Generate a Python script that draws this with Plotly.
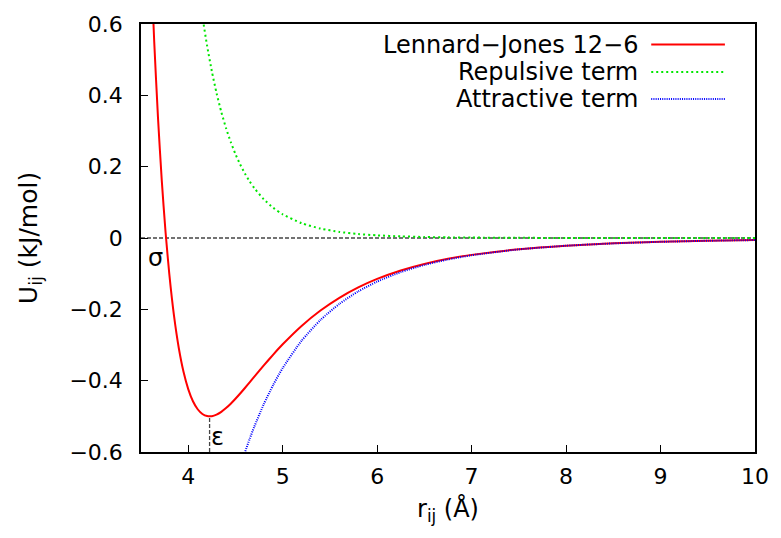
import plotly.graph_objects as go

# ---- data ----
r = [3.60, 3.64, 3.68, 3.72, 3.76, 3.80, 3.85, 3.90, 3.95, 4.00, 4.05, 4.10,
     4.15, 4.20, 4.25, 4.30, 4.35, 4.40, 4.45, 4.50, 4.55, 4.60, 4.65, 4.70,
     4.80, 4.90, 5.00, 5.20, 5.40, 5.60, 5.80, 6.00, 6.25, 6.50, 6.75, 7.00,
     7.50, 8.00, 8.50, 9.00, 9.50, 10.00]
u_lj = [0.8074, 0.5500, 0.3368, 0.1608, 0.0162, -0.1022, -0.2193, -0.3084,
        -0.3751, -0.4236, -0.4577, -0.4801, -0.4934, -0.4993, -0.4995, -0.4951,
        -0.4873, -0.4769, -0.4645, -0.4507, -0.4359, -0.4205, -0.4047, -0.3888,
        -0.3573, -0.3269, -0.2981, -0.2466, -0.2034, -0.1677, -0.1385, -0.1147,
        -0.0910, -0.0727, -0.0584, -0.0473, -0.0315, -0.0215, -0.0150, -0.0107,
        -0.0077, -0.0057]
u_rep = [3.4245, 2.9992, 2.6305, 2.3105, 2.0322, 1.7899, 1.5300, 1.3105,
         1.1247, 0.9672, 0.8332, 0.7191, 0.6218, 0.5386, 0.4673, 0.4061,
         0.3535, 0.3082, 0.2691, 0.2353, 0.2061, 0.1808, 0.1588, 0.1397,
         0.1085, 0.0847, 0.0665, 0.0415, 0.0264, 0.0171, 0.0112, 0.0075,
         0.0046, 0.0029, 0.0018, 0.0012, 0.0005, 0.0002, 0.0001, 0.0001,
         0.0000, 0.0000]
u_att = [-2.6170, -2.4492, -2.2937, -2.1496, -2.0160, -1.8920, -1.7493, -1.6190,
         -1.4998, -1.3908, -1.2909, -1.1993, -1.1152, -1.0378, -0.9667, -0.9012,
         -0.8408, -0.7851, -0.7336, -0.6860, -0.6420, -0.6013, -0.5635, -0.5285,
         -0.4658, -0.4116, -0.3646, -0.2881, -0.2298, -0.1847, -0.1496, -0.1221,
         -0.0956, -0.0755, -0.0602, -0.0484, -0.0320, -0.0217, -0.0151, -0.0107,
         -0.0078, -0.0057]

series_names = ["Lennard\u2212Jones 12\u22126", "Repulsive term", "Attractive term"]
series_colors = ["#ff0000", "#00e600", "#0000ff"]
series_dash = ["solid", "2px,3px", "1px,1.2px"]
series_width = [2, 2, 2]

r_min = 4.226      # position of the minimum (epsilon)
u_min = -0.4995
sigma_pos = (3.655, -0.055)
eps_pos = (4.31, -0.558)

x_range = [3.5, 10]
y_range = [-0.6, 0.6]
x_ticks = [4, 5, 6, 7, 8, 9, 10]
y_ticks = [-0.6, -0.4, -0.2, 0, 0.2, 0.4, 0.6]
y_ticklabels = ["\u22120.6", "\u22120.4", "\u22120.2", "0", "0.2", "0.4", "0.6"]

FONT = "DejaVu Sans"

fig = go.Figure()
for ys, name, col, dash, w in zip([u_lj, u_rep, u_att], series_names,
                                  series_colors, series_dash, series_width):
    fig.add_trace(go.Scatter(x=r, y=ys, mode="lines", name=name,
                             line=dict(color=col, dash=dash, width=w,
                                       shape="spline", smoothing=0.6),
                             showlegend=False))

# zero line and epsilon marker
fig.add_shape(type="line", xref="paper", x0=0, x1=1, yref="y", y0=0, y1=0,
              line=dict(color="#444444", width=1.3, dash="4px,2px"), layer="below")
fig.add_shape(type="line", xref="x", x0=r_min, x1=r_min, yref="y", y0=y_range[0], y1=u_min,
              line=dict(color="#444444", width=1.3, dash="4px,2px"), layer="below")

fig.add_annotation(x=sigma_pos[0], y=sigma_pos[1], text="\u03c3", showarrow=False,
                   font=dict(family=FONT, size=24, color="black"))
fig.add_annotation(x=eps_pos[0], y=eps_pos[1], text="\u03b5", showarrow=False,
                   font=dict(family=FONT, size=24, color="black"))

# key (gnuplot style: text right-aligned, sample on the right)
key_y = [0.952, 0.888, 0.825]
for name, col, dash, w, ky in zip(series_names, series_colors, series_dash,
                                  series_width, key_y):
    fig.add_annotation(xref="paper", yref="paper", x=0.812, y=ky, text=name,
                       showarrow=False, xanchor="right", yanchor="middle",
                       font=dict(family=FONT, size=24, color="black"))
    fig.add_shape(type="line", xref="paper", yref="paper", x0=0.831, x1=0.951,
                  y0=ky, y1=ky, line=dict(color=col, dash=dash, width=w))

axis_common = dict(showgrid=False, zeroline=False, showline=True, mirror=True,
                   linecolor="black", linewidth=1.5, ticks="inside", ticklen=7,
                   tickwidth=1, tickcolor="black",
                   tickfont=dict(family=FONT, size=22, color="black"))

fig.update_xaxes(range=x_range, tickvals=x_ticks, ticklabelstandoff=4,
                 title=dict(text="r<sub>ij</sub> (\u00c5)", standoff=12,
                            font=dict(family=FONT, size=24, color="black")),
                 **axis_common)
fig.update_yaxes(range=y_range, tickvals=y_ticks, ticktext=y_ticklabels,
                 ticklabelstandoff=12,
                 title=dict(text="U<sub>ij</sub> (kJ/mol)", standoff=25,
                            font=dict(family=FONT, size=25, color="black")),
                 **axis_common)

fig.update_layout(width=781, height=538, plot_bgcolor="white", paper_bgcolor="white",
                  margin=dict(l=141, r=19, t=21, b=86),
                  font=dict(family=FONT, color="black"))

fig.write_html("out.html")
